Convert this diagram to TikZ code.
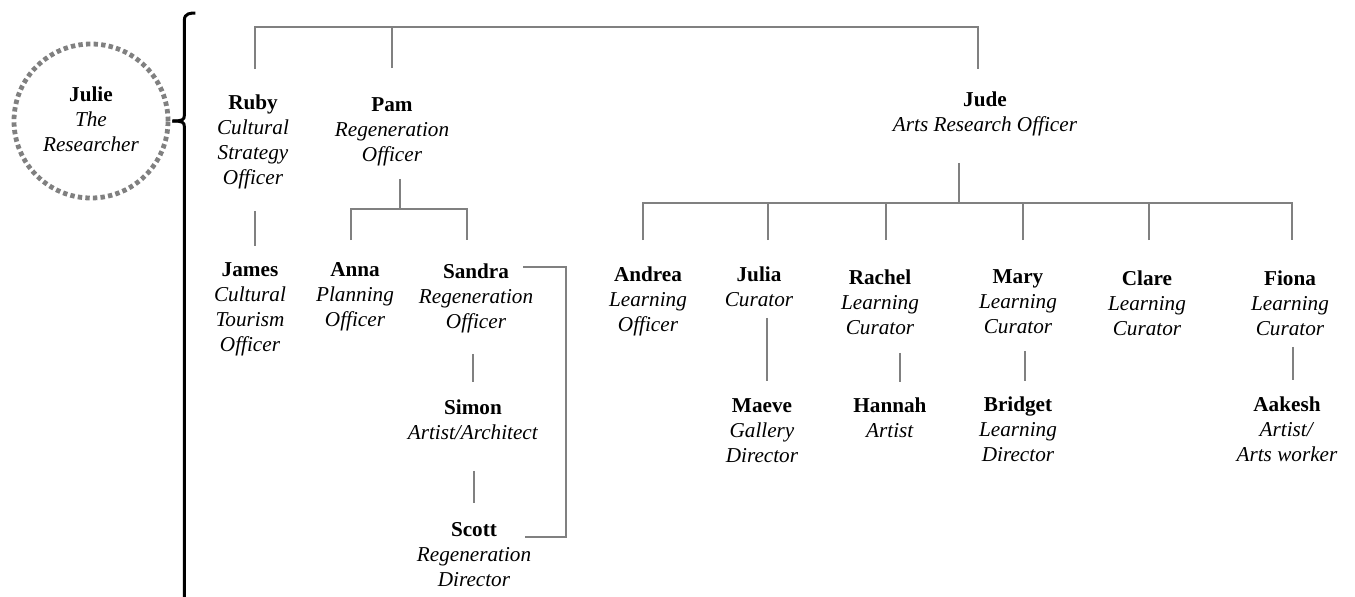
\documentclass[tikz,border=0pt]{standalone}
\usepackage{fontspec}
\setmainfont{Liberation Serif}
\usetikzlibrary{calc}

\definecolor{linegray}{RGB}{128,128,128}
\tikzstyle{person} = [anchor=north, inner sep=0pt, align=center, font=\fontsize{10.6}{12.5}\selectfont]
\tikzstyle{link} = [draw=linegray, line width=1.2pt]
\tikzstyle{bracestroke} = [draw=black, line width=1.5pt]
\newcommand{\pname}[1]{\textbf{#1}\strut}
\newcommand{\prole}[1]{\textit{#1}\strut}

\begin{document}
\begin{tikzpicture}[x=0.5pt, y=-0.5pt]
	\useasboundingbox (0,0) rectangle (1355,596);

	\node[circle, draw=linegray, line width=2.4pt, dash pattern=on 2.2pt off 1.6pt, minimum size=77pt, inner sep=0pt, align=center, font=\fontsize{10.6}{12.5}\selectfont] (julie) at (91,121) {\pname{Julie}\\\prole{The}\\\prole{Researcher}};

	\node[person] (ruby) at (253,91.5) {\pname{Ruby}\\\prole{Cultural}\\\prole{Strategy}\\\prole{Officer}};
	\node[person] (pam) at (392,93.5) {\pname{Pam}\\\prole{Regeneration}\\\prole{Officer}};
	\node[person] (jude) at (985,88.5) {\pname{Jude}\\\prole{Arts Research Officer}};

	\node[person] (james) at (250,258.5) {\pname{James}\\\prole{Cultural}\\\prole{Tourism}\\\prole{Officer}};
	\node[person] (anna) at (355,258.5) {\pname{Anna}\\\prole{Planning}\\\prole{Officer}};
	\node[person] (sandra) at (476,260.5) {\pname{Sandra}\\\prole{Regeneration}\\\prole{Officer}};
	\node[person] (simon) at (473,396.5) {\pname{Simon}\\\prole{Artist/Architect}};
	\node[person] (scott) at (474,518.5) {\pname{Scott}\\\prole{Regeneration}\\\prole{Director}};

	\node[person] (andrea) at (648,263.5) {\pname{Andrea}\\\prole{Learning}\\\prole{Officer}};
	\node[person] (julia) at (759,263.5) {\pname{Julia}\\\prole{Curator}};
	\node[person] (rachel) at (880,266.5) {\pname{Rachel}\\\prole{Learning}\\\prole{Curator}};
	\node[person] (mary) at (1018,265.5) {\pname{Mary}\\\prole{Learning}\\\prole{Curator}};
	\node[person] (clare) at (1147,267.5) {\pname{Clare}\\\prole{Learning}\\\prole{Curator}};
	\node[person] (fiona) at (1290,267.5) {\pname{Fiona}\\\prole{Learning}\\\prole{Curator}};

	\node[person] (maeve) at (762,394.5) {\pname{Maeve}\\\prole{Gallery}\\\prole{Director}};
	\node[person] (hannah) at (890,394.5) {\pname{Hannah}\\\prole{Artist}};
	\node[person] (bridget) at (1018,393.5) {\pname{Bridget}\\\prole{Learning}\\\prole{Director}};
	\node[person] (aakesh) at (1287,393.5) {\pname{Aakesh}\\\prole{Artist/}\\\prole{Arts worker}};

	% brace from Julie
	\coordinate (tip) at ([xshift=1pt]julie.east);
	\draw[bracestroke] (tip) .. controls +(10,0) and +(0,5) .. ++(12,-6) -- ++(0,-95) .. controls +(0,-7) and +(-4,0) .. ++(11,-7);
	\draw[bracestroke] (tip) .. controls +(10,0) and +(0,-5) .. ++(12,6) -- ++(0,480);

	% top level
	\coordinate (topbus) at (0,27);
	\coordinate (rubytop) at ([xshift=1pt,yshift=11.25pt]ruby.north);
	\coordinate (pamtop) at ([yshift=12.75pt]pam.north);
	\coordinate (judetop) at ([xshift=-3.5pt,yshift=9.75pt]jude.north);
	\draw[link] (rubytop) |- (judetop |- topbus) -- (judetop);
	\draw[link] (pamtop) -- (pamtop |- topbus);

	% Ruby and Pam
	\coordinate (rubyfoot) at ([xshift=1pt,yshift=-9.25pt]ruby.south);
	\draw[link, shorten >=6.25pt] (rubyfoot) -- (rubyfoot |- james.north);

	\coordinate (pambus) at (0,209);
	\coordinate (pamfoot) at ([xshift=4pt,yshift=-4.75pt]pam.south);
	\coordinate (annatop) at ([xshift=-2pt,yshift=9.25pt]anna.north);
	\coordinate (sandratop) at ([xshift=-4.5pt,yshift=10.25pt]sandra.north);
	\draw[link] (pamfoot) -- (pamfoot |- pambus);
	\draw[link] (annatop) |- (sandratop |- pambus) -- (sandratop);

	\coordinate (sandrafoot) at ([xshift=-1.5pt,yshift=-8.75pt]sandra.south);
	\draw[link, shorten >=7.25pt] (sandrafoot) -- (sandrafoot |- simon.north);
	\coordinate (simonfoot) at ([xshift=0.5pt,yshift=-11.75pt]simon.south);
	\draw[link, shorten >=7.75pt] (simonfoot) -- (simonfoot |- scott.north);

	\coordinate (sandraside) at ($(sandra.north)+(47,6.5)$);
	\coordinate (scottside) at ($(scott.north)+(51,18.5)$);
	\draw[link] (sandraside) -| ($(scottside)+(41,0)$) -- (scottside);

	% Jude
	\coordinate (judebus) at (0,203);
	\coordinate (judefoot) at ([xshift=-13pt,yshift=-11.75pt]jude.south);
	\draw[link] (judefoot) -- (judefoot |- judebus);
	\coordinate (andreatop) at ([xshift=-2.5pt,yshift=11.75pt]andrea.north);
	\coordinate (juliatop) at ([xshift=4.5pt,yshift=11.75pt]julia.north);
	\coordinate (racheltop) at ([xshift=3pt,yshift=13.25pt]rachel.north);
	\coordinate (marytop) at ([xshift=2.5pt,yshift=12.75pt]mary.north);
	\coordinate (claretop) at ([xshift=1pt,yshift=13.75pt]clare.north);
	\coordinate (fionatop) at ([xshift=1pt,yshift=13.75pt]fiona.north);
	\draw[link] (andreatop) |- (fionatop |- judebus) -- (fionatop);
	\foreach \k in {juliatop, racheltop, marytop, claretop}
		\draw[link] (\k) -- (\k |- judebus);

	\coordinate (juliafoot) at ([xshift=4pt,yshift=-1.75pt]julia.south);
	\draw[link, shorten >=6.75pt] (juliafoot) -- (juliafoot |- maeve.north);
	\coordinate (rachelfoot) at ([xshift=10pt,yshift=-5.25pt]rachel.south);
	\draw[link, shorten >=6.25pt] (rachelfoot) -- (rachelfoot |- hannah.north);
	\coordinate (maryfoot) at ([xshift=3.5pt,yshift=-4.75pt]mary.south);
	\draw[link, shorten >=6.25pt] (maryfoot) -- (maryfoot |- bridget.north);
	\coordinate (fionafoot) at ([xshift=1.5pt,yshift=-1.75pt]fiona.south);
	\draw[link, shorten >=6.75pt] (fionafoot) -- (fionafoot |- aakesh.north);
\end{tikzpicture}
\end{document}
